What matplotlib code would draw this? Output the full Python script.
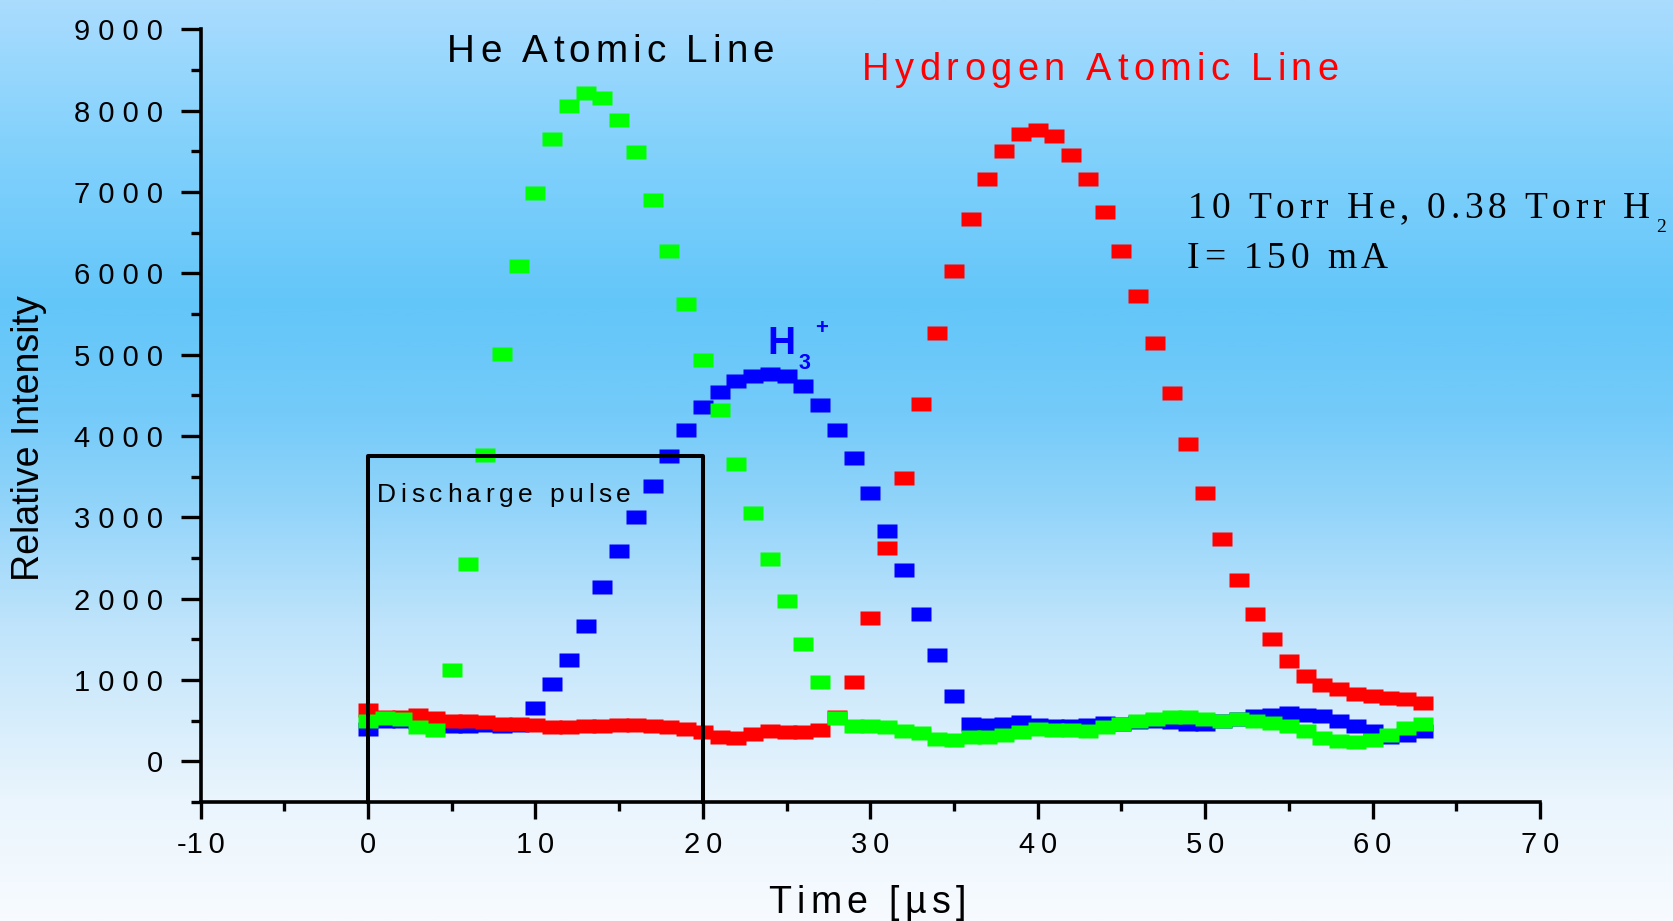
import numpy as np
import matplotlib
matplotlib.use("Agg")
import matplotlib.pyplot as plt
from matplotlib.colors import LinearSegmentedColormap
from matplotlib.font_manager import FontProperties
from matplotlib.path import Path
from matplotlib.ticker import MultipleLocator, FixedLocator, FixedFormatter

W, H, DPI = 1673, 921, 100
plt.rcParams['font.family'] = ['Liberation Sans', 'DejaVu Sans']

# time axis (µs), one point per µs
t = np.arange(64)

# H3+ signal (blue)
h3 = [400, 490, 500, 480, 470, 430, 440, 445, 440, 450,
      655, 945, 1240, 1667, 2139, 2585, 3005, 3386, 3753, 4068,
      4357, 4541, 4672, 4738, 4764, 4738, 4619, 4383, 4068, 3727,
      3294, 2835, 2349, 1811, 1305, 800, 465, 445, 457, 478,
      449, 429, 429, 449, 470, 465, 480, 490, 480, 455,
      460, 490, 520, 560, 572, 589, 572, 552, 498, 429,
      375, 297, 318, 367]

# Hydrogen atomic line (red)
hydrogen = [634, 551, 551, 564, 531, 490, 490, 478, 465, 464,
            451, 425, 416, 437, 437, 449, 449, 437, 425, 396,
            355, 301, 281, 342, 375, 355, 355, 387, 545, 970,
            1759, 2625, 3478, 4396, 5262, 6024, 6667, 7165, 7507, 7717,
            7756, 7690, 7454, 7165, 6759, 6273, 5722, 5144, 4528, 3898,
            3294, 2730, 2231, 1811, 1509, 1237, 1052, 937, 888, 833,
            806, 781, 761, 720]

# He atomic line (green)
helium = [502, 527, 520, 420, 388, 1128, 2428, 3766, 5013, 6089,
          6982, 7651, 8058, 8215, 8150, 7887, 7493, 6903, 6273, 5617,
          4934, 4318, 3661, 3058, 2493, 1969, 1444, 971, 531, 429,
          431, 416, 379, 347, 277, 268, 305, 297, 326, 359,
          396, 388, 388, 371, 416, 457, 490, 515, 548, 539,
          515, 502, 515, 490, 474, 429, 373, 289, 244, 236,
          265, 318, 404, 453]

# discharge pulse box: 0..20 µs
pulse_t = [0, 0, 20, 20]
pulse_y = [-500, 3750, 3750, -500]

x_ticks = [-10, 0, 10, 20, 30, 40, 50, 60, 70]
x_tick_labels = ["-10", "0", "10", "20", "30", "40", "50", "60", "70"]
y_ticks = [0, 1000, 2000, 3000, 4000, 5000, 6000, 7000, 8000, 9000]
y_tick_labels = ["0", "1000", "2000", "3000", "4000", "5000", "6000", "7000", "8000", "9000"]


def wide(s, gap=" "):
    # the original labels are drawn with extra letter spacing
    sign = "-" if s.startswith("-") else ""
    return sign + gap.join(s.lstrip("-"))


fig = plt.figure(figsize=(W / DPI, H / DPI), dpi=DPI)
renderer = fig.canvas.get_renderer()

# background gradient
stops = [(0.0, "#aadcfe"), (0.15, "#84d2fc"), (0.33, "#63c6f9"), (0.45, "#74cbf9"),
         (0.55, "#92d4fa"), (0.68, "#bfe4fb"), (0.87, "#eaf5fd"), (1.0, "#f7fbff")]
cmap = LinearSegmentedColormap.from_list("bg", stops)
bg = fig.add_axes([0, 0, 1, 1], zorder=-10)
bg.imshow(np.linspace(0, 1, 512)[:, None], aspect="auto", cmap=cmap,
          extent=[0, 1, 0, 1], origin="upper")
bg.axis("off")

ax = fig.add_axes([200.6 / W, 1 - 802 / H, (1540 - 200.6) / W, (802 - 29.3) / H])
ax.set_facecolor("none")

rect = Path([(-1, -0.78), (1, -0.78), (1, 0.78), (-1, 0.78), (-1, -0.78)],
            [Path.MOVETO, Path.LINETO, Path.LINETO, Path.LINETO, Path.CLOSEPOLY])
ms = 13.7
ax.plot(t, h3, ls="none", marker=rect, ms=ms, mfc="#0000ff", mec="none", zorder=3)
ax.plot(t, hydrogen, ls="none", marker=rect, ms=ms, mfc="#ff0000", mec="none", zorder=3)
ax.plot(t, helium, ls="none", marker=rect, ms=ms, mfc="#00ff00", mec="none", zorder=3)
ax.plot(pulse_t, pulse_y, color="black", lw=2.9, clip_on=False, zorder=5)

ax.set_xlim(-10, 70)
ax.set_ylim(-500, 9000)
for s in ["top", "right"]:
    ax.spines[s].set_visible(False)
for s in ["left", "bottom"]:
    ax.spines[s].set_linewidth(2.6)

ax.xaxis.set_major_locator(FixedLocator(x_ticks))
ax.xaxis.set_major_formatter(FixedFormatter([wide(s, "\u2009") for s in x_tick_labels]))
ax.xaxis.set_minor_locator(MultipleLocator(5))
ax.yaxis.set_major_locator(FixedLocator(y_ticks))
ax.yaxis.set_major_formatter(FixedFormatter([wide(s) for s in y_tick_labels]))
ax.yaxis.set_minor_locator(MultipleLocator(500))
ax.tick_params(axis="x", which="major", length=12.2, width=2.4, pad=9.0, labelsize=21)
ax.tick_params(axis="x", which="minor", length=6.5, width=2.4)
ax.tick_params(axis="y", which="major", length=14.4, width=2.4, pad=13, labelsize=21)
ax.tick_params(axis="y", which="minor", length=7.2, width=2.4)


def adv(ch, fp):
    w2 = renderer.get_text_width_height_descent("||", fp, ismath=False)[0]
    w3 = renderer.get_text_width_height_descent("|" + ch + "|", fp, ismath=False)[0]
    return w3 - w2


def tracked(x, y, s, size, track, family="Liberation Sans", weight="normal", **kw):
    # draw letter by letter to mimic the wide letter spacing; x, y in pixels (baseline)
    fp = FontProperties(family=family, size=size, weight=weight)
    for ch in s:
        if ch != " ":
            fig.text(x / W, 1 - y / H, ch, fontproperties=fp, ha="left", va="baseline", **kw)
        x += adv(ch, fp) + track


tracked(447, 61.7, "He Atomic Line", 27.8, 5, color="black")
tracked(862, 80, "Hydrogen Atomic Line", 27.4, 5.4, color="red")
tracked(377, 502, "Discharge pulse", 19, 4.6, color="black")
tracked(768, 913, "Time [µs]", 27, 5.4, color="black")
tracked(1188, 218, "10 Torr He, 0.38 Torr H", 27, 4.5, family="Liberation Serif", color="black")
fig.text(1656 / W, 1 - 232 / H, "2", family="Liberation Serif", size=14, ha="left", va="baseline")
tracked(1187, 268, "I= 150 mA", 27, 4.5, family="Liberation Serif", color="black")

fig.text(767 / W, 1 - 354 / H, "H", color="#0000ff", size=28, weight="bold", ha="left", va="baseline")
fig.text(799 / W, 1 - 369 / H, "3", color="#0000ff", size=15.5, weight="bold", ha="left", va="baseline")
fig.text(821.5 / W, 1 - 328 / H, "+", color="#0000ff", size=16, weight="bold", ha="center", va="center")

fig.text(29 / W, 1 - 438 / H, "Relative Intensity", rotation=90, size=27, ha="center", va="center")

fig.savefig("out.png", dpi=DPI)
